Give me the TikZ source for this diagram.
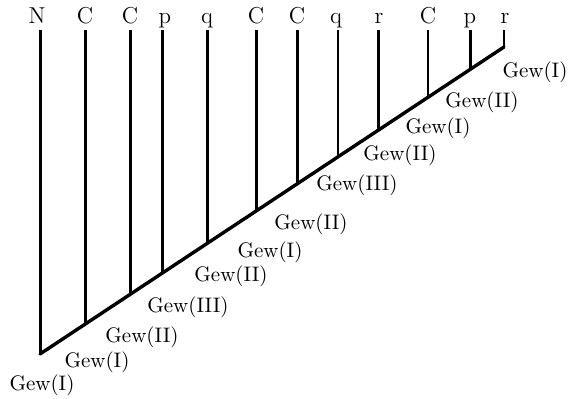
\documentclass[tikz,border=0pt]{standalone}
\begin{document}
\begin{tikzpicture}[x=0.5pt,y=-0.5pt,
  leaf/.style={font=\fontsize{11.5}{13}\selectfont, anchor=base, text depth=0.5ex, inner xsep=0pt, inner ysep=1.1pt},
  gew/.style={font=\fontsize{10.5}{12}\selectfont, anchor=center, inner sep=0pt},
  thickline/.style={line width=1.5pt},
  thinline/.style={line width=0.75pt},
  spine/.style={line width=1.7pt, line cap=round}]
\useasboundingbox (0,0) rectangle (568,398);
% leaf labels
\node[leaf] (l1) at (37,23) {N};
\node[leaf] (l2) at (85,23) {C};
\node[leaf] (l3) at (130,23) {C};
\node[leaf] (l4) at (165,23) {p};
\node[leaf] (l5) at (207,23) {q};
\node[leaf] (l6) at (256,23) {C};
\node[leaf] (l7) at (297,23) {C};
\node[leaf] (l8) at (336,23) {q};
\node[leaf] (l9) at (379,23) {r};
\node[leaf] (l10) at (428,23) {C};
\node[leaf] (l11) at (470,23) {p};
\node[leaf] (l12) at (505,23) {r};
% junctions on backbone: y = 354 - (x-40)*0.6616
\coordinate (j1) at (40,354);
\coordinate (j2) at (85,324.2);
\coordinate (j3) at (130,294.5);
\coordinate (j4) at (162,273.3);
\coordinate (j5) at (207,243.5);
\coordinate (j6) at (256,211.1);
\coordinate (j7) at (297,184.0);
\coordinate (j8) at (338,156.8);
\coordinate (j9) at (378,130.4);
\coordinate (j10) at (428,97.3);
\coordinate (j11) at (470,69.5);
\coordinate (j12) at (504,47.0);
% vertical lines
\draw[thickline] (l1.south -| j1) -- (j1);
\draw[thickline] (l2.south -| j2) -- (j2);
\draw[thickline] (l3.south -| j3) -- (j3);
\draw[thickline] (l4.south -| j4) -- (j4);
\draw[thickline] (l5.south -| j5) -- (j5);
\draw[thickline] (l6.south -| j6) -- (j6);
\draw[thickline] (l7.south -| j7) -- (j7);
\draw[thinline] (l8.south -| j8) -- (j8);
\draw[thickline] (l9.south -| j9) -- (j9);
\draw[thinline] (l10.south -| j10) -- (j10);
\draw[thickline] (l11.south -| j11) -- (j11);
\draw[thinline] (l12.south -| j12) -- (j12);
% backbone
\draw[spine] (j1) -- (j12);
% Gew labels
\node[gew] (g1) at (42,385) {Gew(I)};
\node[gew] (g2) at (97,362) {Gew(I)};
\node[gew] (g3) at (142,337) {Gew(II)};
\node[gew] (g4) at (188,307) {Gew(III)};
\node[gew] (g5) at (231,276) {Gew(II)};
\node[gew] (g6) at (270,252) {Gew(I)};
\node[gew] (g7) at (311,224) {Gew(II)};
\node[gew] (g8) at (357,185) {Gew(III)};
\node[gew] (g9) at (400,155) {Gew(II)};
\node[gew] (g10) at (438,128) {Gew(I)};
\node[gew] (g11) at (482,102) {Gew(II)};
\node[gew] (g12) at (535,72) {Gew(I)};
\end{tikzpicture}
\end{document}
